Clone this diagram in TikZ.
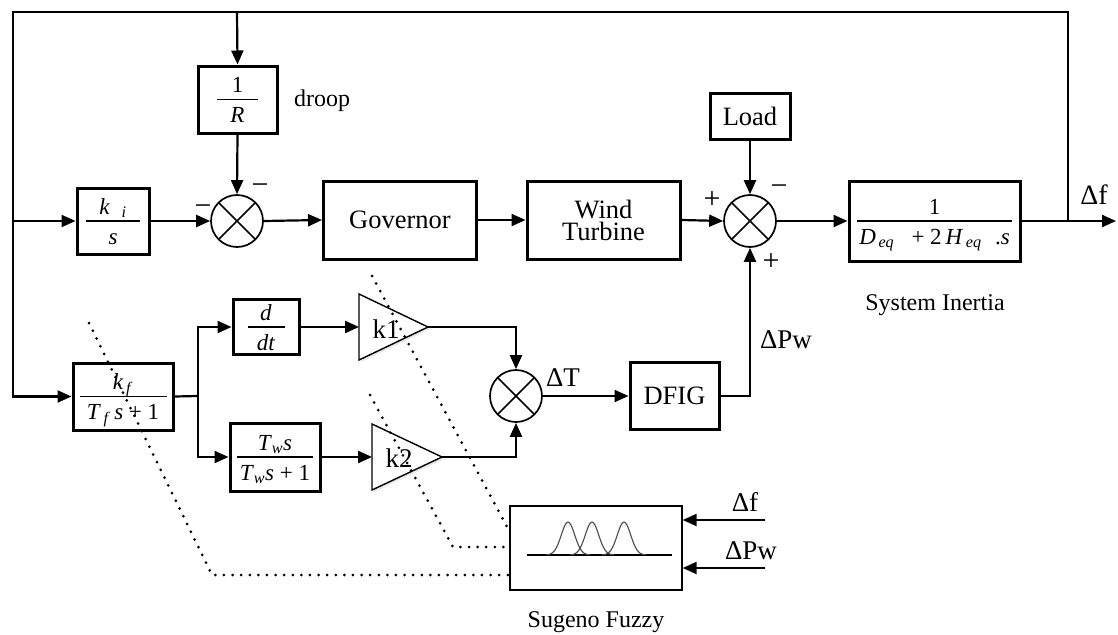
\documentclass[tikz,border=0pt]{standalone}
\usepackage{fontspec}
\setmainfont{Liberation Serif}
\usetikzlibrary{arrows.meta,calc,shadows}
\newcommand{\bfr}[3]{\vbox{\offinterlineskip\halign{\hfil##\hfil\cr
  \vrule height 16pt depth 2pt width 0pt\smash{#2}\cr
  \noalign{\kern 4.2pt}
  \vrule height 1.6pt depth 0pt width #1\cr
  \noalign{\kern 4.2pt}
  \vrule height 18pt depth 0pt width 0pt\smash{#3}\cr}}}
\begin{document}
\begin{tikzpicture}[x=1pt,y=-1pt,
  blk/.style={draw,line width=3pt,inner sep=0pt,font=\fontsize{26.5}{22}\selectfont,align=center},
  mth/.style={font=\fontsize{23}{26}\selectfont},
  sumj/.style={circle,draw,line width=1.7pt,minimum size=52pt,inner sep=0pt,
    path picture={\draw[line width=1.7pt] (path picture bounding box.north west)--(path picture bounding box.south east)
      (path picture bounding box.north east)--(path picture bounding box.south west);}},
  conn/.style={line width=2.2pt},
  arr/.style={conn,-{Triangle[length=14pt,width=12pt]}},
  lbl/.style={font=\fontsize{26}{28}\selectfont,inner sep=0pt},
  sgn/.style={font=\fontsize{30}{30}\selectfont,inner sep=0pt},
  tri/.style={line width=1.4pt,fill=white,drop shadow={opacity=0.18,shadow xshift=2pt,shadow yshift=-2pt}},
  dots/.style={line width=3pt,line cap=round,dash pattern=on 0pt off 8.6pt}
]
\useasboundingbox (0,0) rectangle (1118,634);

% blocks
\node[blk,mth,minimum width=79pt,minimum height=67pt] (droop) at (237.5,99.5) {\bfr{41pt}{1}{\textit{R}}};
\node[lbl,font=\fontsize{24}{26}\selectfont] (droopl) at (322,101) {droop};
\node[blk,mth,minimum width=72pt,minimum height=66pt] (ki) at (113,221) {\bfr{54pt}{\textit{k}\,\,\,\textsubscript{\textit{i}}}{\textit{s}}};
\node[sumj] (s1) at (237,221) {};
\node[blk,minimum width=153pt,minimum height=78pt] (gov) at (400,220) {Governor};
\node[blk,minimum width=153pt,minimum height=78pt] (wt) at (603.5,220) {Wind\\Turbine};
\node[blk,minimum width=80pt,minimum height=46pt] (load) at (750,116) {Load};
\node[sumj] (s2) at (750,221) {};
\node[blk,mth,minimum width=171pt,minimum height=80pt] (sys) at (934.5,221)
  {\bfr{155pt}{1}{\textit{D}\textsubscript{\,\textit{eq}}\,\,\, + 2\,\textit{H}\textsubscript{\,\textit{eq}}\,\, .\textit{s}}};
\node[lbl,font=\fontsize{24}{26}\selectfont] (sysl) at (935,305) {System Inertia};

\node[blk,mth,minimum width=100pt,minimum height=67pt] (kf) at (123,396.5)
  {\bfr{87pt}{\textit{k}\textsubscript{\,\textit{f}}}{\textit{T}\textsubscript{\,\textit{f}}\,\textit{s} + 1}};
\node[blk,mth,minimum width=66pt,minimum height=55pt] (ddt) at (266,327) {\bfr{37pt}{\textit{d}}{\textit{dt}}};
\node[blk,mth,minimum width=90pt,minimum height=68pt] (tw) at (275,457)
  {\bfr{76pt}{\textit{T}\textsubscript{\textit{w}}\textit{s}}{\textit{T}\textsubscript{\textit{w}}\textit{s} + 1}};
\node[sumj] (s3) at (516,396) {};
\node[blk,minimum width=89pt,minimum height=67pt] (dfig) at (674.5,396) {DFIG};

% gains
\draw[tri] (359,294) -- (359,360) -- (428,327) -- cycle;
\node[lbl,font=\fontsize{27}{28}\selectfont] (k1) at (386,329) {k1};
\coordinate (k1in) at (359,327);
\coordinate (k1out) at (428,327);
\draw[tri] (372,424) -- (372,490) -- (442,457) -- cycle;
\node[lbl,font=\fontsize{27}{28}\selectfont] (k2) at (399,458) {k2};
\coordinate (k2in) at (372,457);
\coordinate (k2out) at (442,457);

% fuzzy block
\node[draw,line width=1.3pt,minimum width=172pt,minimum height=84pt,inner sep=0pt] (fz) at (596,548) {};
\draw[line width=1.1pt] (527,555) -- (672,555);
\foreach \c in {568,592,624}{
  \draw[black!70,line width=1.1pt] plot[domain=-22:22,samples=45,smooth] ({\c+\x},{555-33/exp((\x/9.5)^2)});
}
\node[lbl,font=\fontsize{24}{26}\selectfont] (fzl) at (596,622) {Sugeno Fuzzy};

% coordinates
\coordinate (tap) at (1068,221);
\coordinate (tl) at (13,12);
\coordinate (td) at (237,12);
\coordinate (lb) at (13,221);
\coordinate (out) at (1116,221);
\coordinate (br) at (198,396);
\coordinate (fin1) at (765,520);
\coordinate (fin2) at (765,568);

% connectors
\draw[arr] (tap) |- (tl) |- (kf.west);
\draw[arr] (lb) -- (ki.west);
\draw[arr] (td) -- (droop.north);
\draw[arr] (droop.south) -- (s1.north);
\draw[arr] (ki.east) -- (s1.west);
\draw[arr] (s1.east) -- (gov.west);
\draw[arr] (gov.east) -- (wt.west);
\draw[arr] (wt.east) -- (s2.west);
\draw[arr] (load.south) -- (s2.north);
\draw[arr] (s2.east) -- (sys.west);
\draw[conn] (sys.east) -- (tap);
\draw[arr] (tap) -- (out);
\draw[conn] (kf.east) -- (br);
\draw[arr] (br) |- (ddt.west);
\draw[arr] (br) |- (tw.west);
\draw[arr] (ddt.east) -- (k1in);
\draw[arr] (tw.east) -- (k2in);
\draw[arr] (k1out) -| (s3.north);
\draw[arr] (k2out) -| (s3.south);
\draw[arr] (s3.east) -- (dfig.west);
\draw[arr] (dfig.east) -| (s2.south);
\draw[arr] (fin1) -- (fin1 -| fz.east);
\draw[arr] (fin2) -- (fin2 -| fz.east);

% signs and labels
\node[sgn] at (260,189) {−};
\node[sgn] at (203,210) {−};
\node[sgn] at (712,200) {+};
\node[sgn] at (779,190) {−};
\node[sgn] at (771,262) {+};
\node[lbl,font=\fontsize{28}{28}\selectfont] (dfl) at (1094,195) {Δf};
\node[lbl,font=\fontsize{27}{28}\selectfont] (dpl) at (786,340) {ΔPw};
\node[lbl,font=\fontsize{27}{28}\selectfont] (dtl) at (563,378) {ΔT};
\node[lbl,font=\fontsize{27}{28}\selectfont] (dfin) at (745,502) {Δf};
\node[lbl,font=\fontsize{27}{28}\selectfont] (dpin) at (751,551) {ΔPw};

% dotted links to the fuzzy controller
\draw[dots] (89,323) -- (212,575) -- (fz.west |- 0,575);
\draw[dots] (370,395) -- (453,547) -- (fz.west |- 0,547);
\draw[dots] (372,276) -- (fz.west |- 0,531);
\end{tikzpicture}
\end{document}
